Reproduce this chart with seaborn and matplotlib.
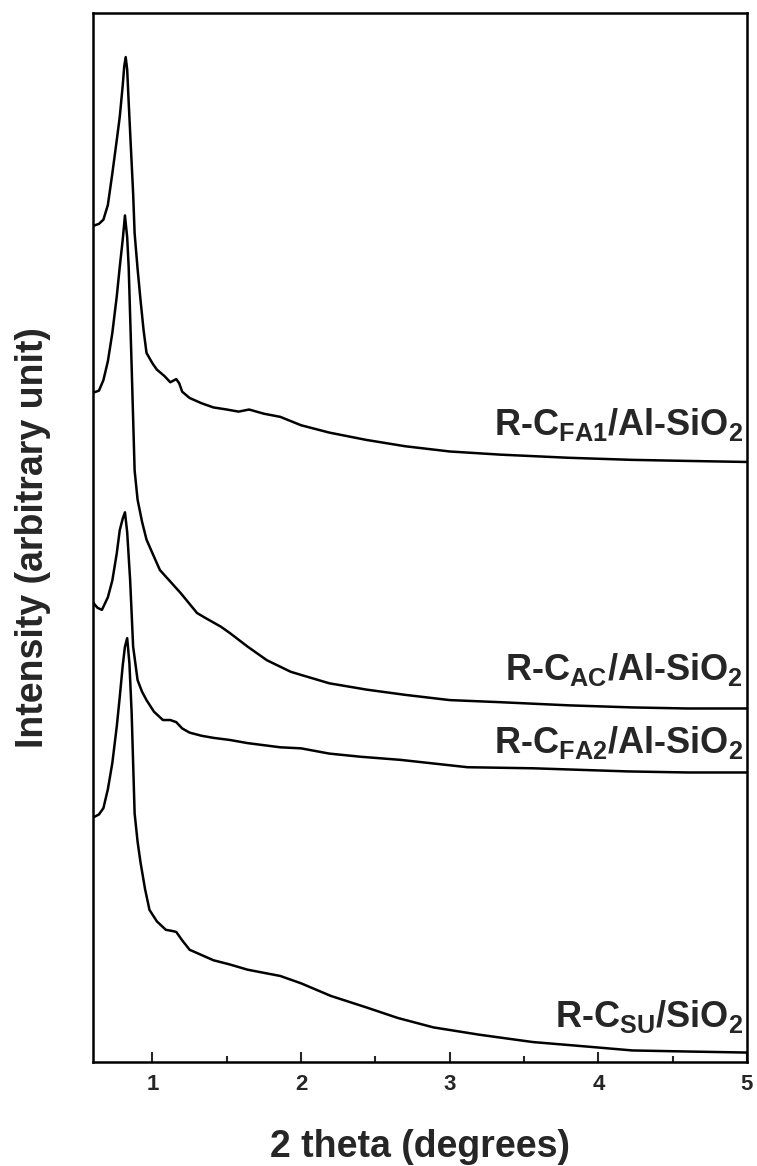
import matplotlib
matplotlib.use("Agg")
import matplotlib.pyplot as plt
import seaborn as sns
import pandas as pd
from matplotlib.ticker import MultipleLocator

# ---- data (2 theta in degrees, intensity in arbitrary units, curves offset as drawn) ----
x_fa1 = [0.60, 0.64, 0.67, 0.70, 0.73, 0.76, 0.78, 0.80, 0.81, 0.82, 0.83, 0.84, 0.85, 0.87,
         0.88, 0.90, 0.92, 0.94, 0.96, 1.00, 1.03, 1.08, 1.12, 1.16, 1.18, 1.20, 1.25, 1.33,
         1.41, 1.50, 1.58, 1.65, 1.75, 1.86, 2.00, 2.19, 2.44, 2.70, 3.00, 3.34, 3.80, 4.23,
         4.60, 5.00]
y_fa1 = [79.7, 79.9, 80.3, 81.7, 84.7, 87.9, 90.1, 93.1, 94.9, 95.8, 94.6, 91.5, 88.6, 82.8,
         79.0, 75.6, 72.6, 69.8, 67.6, 66.6, 66.0, 65.4, 64.8, 65.1, 64.7, 63.9, 63.3, 62.8,
         62.4, 62.2, 62.0, 62.2, 61.8, 61.5, 60.7, 60.0, 59.3, 58.7, 58.2, 57.9, 57.6, 57.4,
         57.3, 57.2]

x_ac = [0.60, 0.64, 0.67, 0.70, 0.73, 0.76, 0.78, 0.80, 0.815, 0.83, 0.84, 0.86, 0.88, 0.90,
        0.93, 0.96, 1.00, 1.05, 1.12, 1.19, 1.30, 1.36, 1.41, 1.46, 1.52, 1.64, 1.77, 1.93,
        2.00, 2.19, 2.44, 2.70, 3.00, 3.34, 3.80, 4.23, 4.60, 5.00]
y_ac = [63.8, 64.0, 65.0, 66.8, 69.5, 73.0, 75.8, 78.4, 80.7, 78.6, 75.8, 66.3, 56.4, 53.6,
        51.5, 49.8, 48.5, 46.9, 45.8, 44.7, 42.8, 42.3, 41.9, 41.5, 40.9, 39.6, 38.3, 37.2,
        36.9, 36.1, 35.5, 35.0, 34.5, 34.3, 34.0, 33.8, 33.7, 33.7]

x_fa2 = [0.60, 0.63, 0.66, 0.70, 0.73, 0.76, 0.78, 0.80, 0.815, 0.83, 0.85, 0.87, 0.90, 0.93,
         0.96, 1.01, 1.07, 1.12, 1.16, 1.20, 1.25, 1.33, 1.41, 1.52, 1.64, 1.75, 1.86, 2.00,
         2.19, 2.40, 2.67, 3.12, 3.56, 4.20, 4.60, 5.00]
y_fa2 = [43.8, 43.3, 43.1, 44.3, 45.9, 48.5, 50.7, 51.8, 52.4, 50.5, 45.9, 39.6, 36.4, 35.3,
         34.5, 33.4, 32.6, 32.6, 32.4, 31.8, 31.4, 31.1, 30.9, 30.7, 30.4, 30.2, 30.0, 29.9,
         29.4, 29.1, 28.8, 28.1, 28.0, 27.7, 27.6, 27.6]

x_su = [0.60, 0.64, 0.67, 0.70, 0.73, 0.76, 0.78, 0.80, 0.815, 0.83, 0.845, 0.86, 0.88, 0.90,
        0.92, 0.95, 0.98, 1.03, 1.09, 1.13, 1.16, 1.20, 1.25, 1.33, 1.41, 1.52, 1.64, 1.75,
        1.86, 2.00, 2.20, 2.44, 2.65, 2.89, 3.20, 3.56, 3.90, 4.23, 4.60, 5.00]
y_su = [23.3, 23.6, 24.2, 26.0, 28.5, 32.0, 34.8, 37.8, 39.6, 40.4, 38.0, 33.3, 23.7, 21.0,
        19.0, 16.5, 14.5, 13.4, 12.6, 12.5, 12.4, 11.6, 10.7, 10.2, 9.7, 9.3, 8.8, 8.5,
        8.2, 7.5, 6.3, 5.2, 4.2, 3.3, 2.6, 1.9, 1.5, 1.1, 1.0, 0.9]

series_names = ["FA1", "AC", "FA2", "SU"]
labels = [r"R-C$_{FA1}$/Al-SiO$_2$", r"R-C$_{AC}$/Al-SiO$_2$",
          r"R-C$_{FA2}$/Al-SiO$_2$", r"R-C$_{SU}$/SiO$_2$"]
label_y = [59.8, 36.4, 29.5, 3.3]
label_x = 4.975

x_ticks = [1, 2, 3, 4, 5]

frames = []
for name, xs, ys in zip(series_names, [x_fa1, x_ac, x_fa2, x_su], [y_fa1, y_ac, y_fa2, y_su]):
    frames.append(pd.DataFrame({"theta": xs, "intensity": ys, "sample": name}))
df = pd.concat(frames, ignore_index=True)

# ---- style ----
sns.set_style("white")
plt.rcParams["font.family"] = ["Liberation Sans", "DejaVu Sans"]
plt.rcParams["font.weight"] = "bold"
plt.rcParams["mathtext.fontset"] = "custom"
plt.rcParams["mathtext.rm"] = "Liberation Sans:bold"
plt.rcParams["mathtext.it"] = "Liberation Sans:bold"
plt.rcParams["mathtext.bf"] = "Liberation Sans:bold"
plt.rcParams["mathtext.default"] = "rm"

fig = plt.figure(figsize=(7.57, 11.66), dpi=100)
ax = fig.add_axes([93 / 757, 1 - 1062 / 1166, (747 - 93) / 757, (1062 - 13) / 1166])

sns.lineplot(data=df, x="theta", y="intensity", units="sample", estimator=None,
             color="black", linewidth=1.8, sort=False, ax=ax)

ax.set_xlim(0.6, 5.0)
ax.set_ylim(0, 100)
ax.set_yticks([])
ax.set_xticks(x_ticks)
ax.set_xticklabels([str(t) for t in x_ticks])
ax.xaxis.set_minor_locator(MultipleLocator(0.5))
ax.tick_params(axis="x", which="major", direction="in", length=7.5, width=1.5,
               labelsize=16, pad=9, bottom=True, top=False)
ax.tick_params(axis="x", which="minor", direction="in", length=4.5, width=1.5,
               bottom=True, top=False)
for lab in ax.get_xticklabels():
    lab.set_fontweight("bold")

for s in ax.spines.values():
    s.set_linewidth(1.8)
    s.set_color("black")

ax.set_xlabel("2 theta (degrees)", fontsize=27, fontweight="bold")
ax.set_ylabel("Intensity (arbitrary unit)", fontsize=27, fontweight="bold")
ax.xaxis.label.set_va("center")
ax.yaxis.label.set_va("center")
ax.xaxis.set_label_coords(0.5, (1062 - 1147) / 1049)
ax.yaxis.set_label_coords((33 - 93) / 654, 0.5)

for lab, ly in zip(labels, label_y):
    ax.text(label_x, ly, lab, ha="right", va="baseline", fontsize=26, fontweight="bold")

if ax.get_legend() is not None:
    ax.get_legend().remove()

fig.savefig("out.png", dpi=100)
